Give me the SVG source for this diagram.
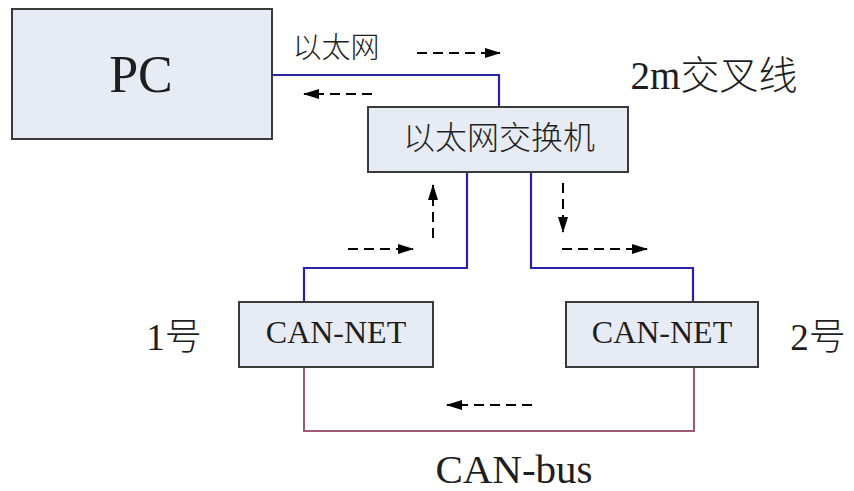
<svg xmlns="http://www.w3.org/2000/svg" width="854" height="491" viewBox="0 0 854 491">
<defs>
<style>
.box{fill:#e6ebf4;stroke:#3a3a3a;stroke-width:2}
.t{font-family:"Liberation Serif","Noto Sans CJK SC",serif;fill:#1e1e1e}
.cjk{font-weight:300}
.eth{fill:none;stroke:#2a22a8;stroke-width:2.2}
.can{fill:none;stroke:#a05a78;stroke-width:2}
.da{fill:none;stroke:#000;stroke-width:2;stroke-dasharray:10 6;marker-end:url(#ah)}
</style>
<marker id="ah" markerUnits="userSpaceOnUse" markerWidth="16" markerHeight="10" refX="15" refY="5" orient="auto">
<path d="M0,0 L16,5 L0,10 Z" fill="#000"/>
</marker>
</defs>
<rect width="854" height="491" fill="#fff"/>

<g id="connectors">
<path class="eth" d="M272,75 H499 V107"/>
<path class="eth" d="M467,173 V268 H304 V302"/>
<path class="eth" d="M531,173 V268 H693 V302"/>
<path class="can" d="M304,367 V431 H694 V367"/>
<path class="da" d="M417,53 H500"/>
<path class="da" d="M372,94 H304"/>
<path class="da" d="M433,238 V185"/>
<path class="da" d="M348,249 H413"/>
<path class="da" d="M563,183 V232"/>
<path class="da" d="M562,249 H647"/>
<path class="da" d="M532,405 H447"/>
</g>

<g id="pc">
<rect class="box" x="12" y="9" width="260" height="130"/>
<text class="t" x="141" y="92" font-size="52" text-anchor="middle">PC</text>
</g>

<g id="switch">
<rect class="box" x="368" y="107" width="260" height="65"/>
<text class="t cjk" x="499" y="149" font-size="32" text-anchor="middle">以太网交换机</text>
</g>

<g id="cannet1">
<rect class="box" x="239" y="302" width="194" height="65"/>
<text class="t" x="336" y="343" font-size="32" text-anchor="middle">CAN-NET</text>
</g>

<g id="cannet2">
<rect class="box" x="566" y="302" width="192" height="65"/>
<text class="t" x="662" y="343" font-size="32" text-anchor="middle">CAN-NET</text>
</g>

<g id="labels">
<text class="t cjk" x="336" y="58" font-size="29" text-anchor="middle">以太网</text>
<text class="t cjk" x="714" y="89" font-size="39" text-anchor="middle">2m交叉线</text>
<text class="t cjk" x="174" y="350" font-size="37" text-anchor="middle">1号</text>
<text class="t cjk" x="818" y="350" font-size="37" text-anchor="middle">2号</text>
<text class="t" x="514" y="483" font-size="41" text-anchor="middle">CAN-bus</text>
</g>
</svg>
